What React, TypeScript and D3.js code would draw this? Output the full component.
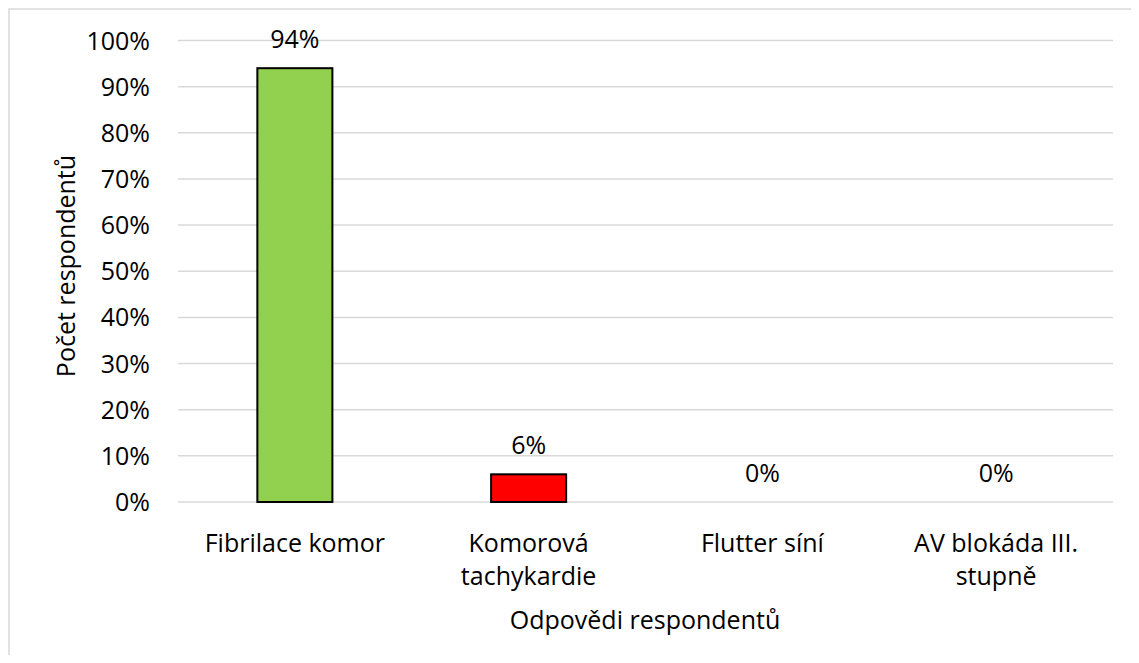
import React from "react";
import * as d3 from "d3";

const categories: string[][] = [
  ["Fibrilace komor"],
  ["Komorová", "tachykardie"],
  ["Flutter síní"],
  ["AV blokáda III.", "stupně"],
];
const values: number[] = [0.94, 0.06, 0, 0];
const barColors: string[] = ["#92d050", "#ff0000", "#92d050", "#92d050"];
const yTicks: number[] = [0, 0.1, 0.2, 0.3, 0.4, 0.5, 0.6, 0.7, 0.8, 0.9, 1.0];
const yTitle = "Počet respondentů";
const xTitle = "Odpovědi respondentů";

const W = 1131;
const H = 647;
const FONT = "'Open Sans', Lato, sans-serif";
const FS = 25;

export default function App() {
  const keys = categories.map((c) => c.join(" "));
  const x = d3.scaleBand<string>().domain(keys).range([170, 1105]).paddingInner(0.679).paddingOuter(0.3395);
  const y = d3.scaleLinear().domain([0, 1]).range([494, 32.5]);
  const fmt = d3.format(".0%");

  return (
    <svg width={W} height={H} style={{ display: "block" }} fontFamily={FONT}>
      <rect x={1} y={1} width={W + 20} height={H + 20} fill="#fff" stroke="#d9d9d9" strokeWidth={1.5} />
      {yTicks.map((t) => (
        <g key={t}>
          <line x1={170} x2={1105} y1={y(t)} y2={y(t)} stroke="#d9d9d9" strokeWidth={1.5} />
          <text x={142} y={y(t)} dy="0.36em" textAnchor="end" fontSize={FS} fill="#000">
            {fmt(t)}
          </text>
        </g>
      ))}
      {values.map((v, i) => {
        const bx = x(keys[i])!;
        const bw = x.bandwidth();
        return (
          <g key={keys[i]}>
            {v > 0 && (
              <rect x={bx} y={y(v)} width={bw} height={y(0) - y(v)} fill={barColors[i]} stroke="#000" strokeWidth={2} />
            )}
            <text x={bx + bw / 2} y={y(v) - 20} textAnchor="middle" fontSize={FS} fill="#000">
              {fmt(v)}
            </text>
            {categories[i].map((line, j) => (
              <text key={j} x={bx + bw / 2} y={544 + j * 32.5} textAnchor="middle" fontSize={FS} fill="#000">
                {line}
              </text>
            ))}
          </g>
        );
      })}
      <text x={637} y={621} textAnchor="middle" fontSize={FS} fill="#000">
        {xTitle}
      </text>
      <text transform={`translate(67,258) rotate(-90)`} textAnchor="middle" fontSize={FS} fill="#000">
        {yTitle}
      </text>
    </svg>
  );
}
